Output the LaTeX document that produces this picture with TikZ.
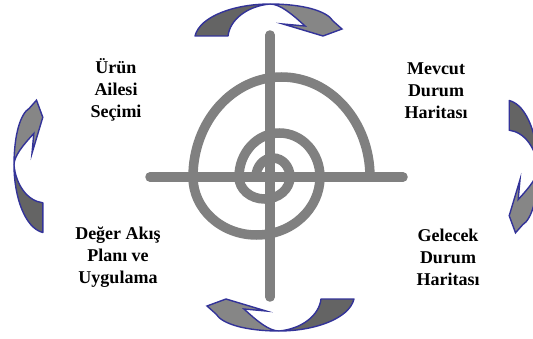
\documentclass[tikz,border=0pt]{standalone}
\usepackage{fontspec}
\setmainfont{Liberation Serif}
\begin{document}
\definecolor{frontgray}{RGB}{134,134,134}
\definecolor{backgray}{RGB}{100,100,100}
\definecolor{edgeblue}{RGB}{51,51,153}
\definecolor{targetgray}{RGB}{128,128,128}
\tikzset{
  lbl/.style={align=center, font=\fontsize{18}{22}\selectfont\bfseries, inner sep=0pt},
  target/.style={draw=targetgray, line width=9.5pt, line cap=round},
  carrow/.pic={
    \fill[backgray, draw=edgeblue, line width=1.4pt, line join=round]
      (0,0) .. controls (-35,0) and (-70,-12) .. (-75,-32) -- (-42,-32)
      .. controls (-40,-15) and (-22,-2) .. (0,0) -- cycle;
    \fill[frontgray, draw=edgeblue, line width=1.4pt, line join=miter]
      (0,0) .. controls (33,0) and (57,-7) .. (63,-17) -- (72,-25) -- (53,-32)
      -- (13,-20) -- (35,-22) .. controls (22,-10) and (10,0) .. (0,0) -- cycle;
  }
}
\begin{tikzpicture}[x=1pt,y=1pt]
\path[use as bounding box, fill=white] (0,0) rectangle (533,338);
% target
\draw[target] (150,161) -- (403,161);
\draw[target] (270,303) -- (270,41);
\draw[target] (256,161)
  arc[start angle=180, end angle=0, x radius=17, y radius=19]
  arc[start angle=0, end angle=-180, x radius=25.5, y radius=22]
  arc[start angle=180, end angle=0, x radius=40.5, y radius=44]
  arc[start angle=0, end angle=-180, x radius=63.5, y radius=58]
  arc[start angle=180, end angle=0, x radius=88.5, y radius=100];
% curved arrows
\pic at (270,334) {carrow};
\pic[rotate=180] at (279,7) {carrow};
\pic[rotate=90, scale=0.9] at (14,173) {carrow};
\pic[rotate=-90, scale=0.9] at (538,170) {carrow};
% labels
\node[lbl] (urun) at (116,248) {Ürün\\Ailesi\\Seçimi};
\node[lbl] (mevcut) at (436,247) {Mevcut\\Durum\\Haritası};
\node[lbl] (deger) at (118,81) {Değer Akış\\Planı ve\\Uygulama};
\node[lbl] (gelecek) at (448,81) {Gelecek\\Durum\\Haritası};
\end{tikzpicture}
\end{document}
